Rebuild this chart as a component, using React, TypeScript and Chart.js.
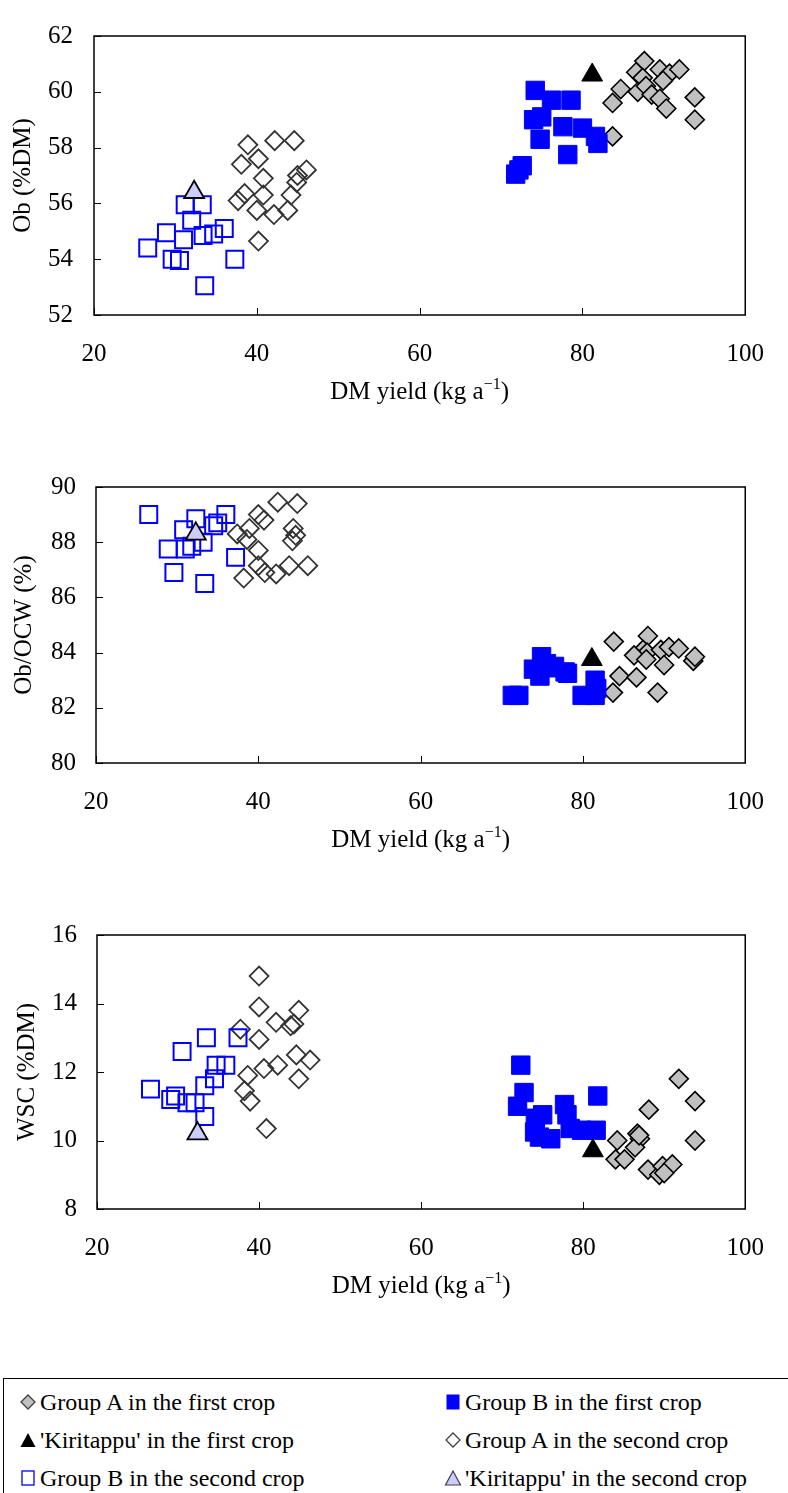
import React, { useEffect, useRef } from 'react';
import { Chart, registerables } from 'chart.js';

Chart.register(...registerables);

type Pt = [number, number];

// ---------- shared axis ----------
const xMin = 20;
const xMax = 100;
const xStep = 20;
const xTitleMain = 'DM yield (kg a';
const xTitleSup = '\u22121';
const xTitleEnd = ')';

// ---------- series labels (legend order) ----------
const seriesLabels = [
  'Group A in the first crop',
  'Group B in the first crop',
  "'Kiritappu' in the first crop",
  'Group A in the second crop',
  'Group B in the second crop',
  "'Kiritappu' in the second crop",
];

// ---------- Panel 1: Ob (%DM) ----------
const obGroupA1: Pt[] = [[87.6,61.1],[86.6,60.7],[89.5,60.8],[90.7,60.65],[91.9,60.8],[87.4,60.5],[89.9,60.4],[84.7,60.1],[86.8,60.0],[87.8,60.2],[88.5,59.9],[89.5,59.75],[83.7,59.6],[90.3,59.4],[93.8,59.8],[93.8,59.0],[83.7,58.4]];
const obGroupB1: Pt[] = [[74.2,60.05],[76.2,59.7],[78.6,59.7],[75.0,59.1],[74.0,59.0],[77.6,58.75],[80.0,58.7],[81.6,58.4],[81.9,58.15],[74.8,58.3],[78.2,57.75],[72.6,57.35],[72.2,57.2],[71.8,57.05]];
const obKiri1: Pt[] = [[81.2,60.6]];
const obGroupA2: Pt[] = [[38.9,58.1],[42.2,58.25],[44.6,58.25],[40.2,57.6],[38.1,57.4],[40.8,56.9],[46.1,57.2],[45.0,57.0],[44.9,56.75],[38.5,56.35],[40.8,56.3],[37.7,56.1],[44.2,56.3],[40.0,55.75],[42.1,55.6],[43.8,55.75],[40.2,54.65]];
const obGroupB2: Pt[] = [[26.6,54.4],[28.9,54.95],[29.6,54.0],[30.5,53.95],[31.0,54.7],[31.2,55.95],[32.0,55.4],[33.3,55.95],[33.4,54.85],[33.6,53.05],[34.7,54.9],[36.0,55.1],[37.3,54.0]];
const obKiri2: Pt[] = [[32.3,56.4]];

// ---------- Panel 2: Ob/OCW (%) ----------
const ocwGroupA1: Pt[] = [[83.8,84.4],[88.0,84.6],[87.4,84.1],[87.9,84.0],[89.6,84.1],[90.6,84.2],[91.8,84.15],[86.3,83.9],[87.8,83.75],[90.0,83.55],[93.6,83.7],[93.8,83.85],[84.5,83.15],[86.6,83.1],[83.7,82.55],[89.2,82.55]];
const ocwGroupB1: Pt[] = [[74.9,83.85],[73.9,83.4],[76.1,83.45],[78.1,83.25],[74.7,83.15],[81.5,83.0],[72.1,82.45],[71.3,82.45],[79.9,82.45],[81.5,82.45],[75.5,83.6],[77.8,83.3],[76.5,83.5],[81.7,82.7]];
const ocwKiri1: Pt[] = [[81.1,83.75]];
const ocwGroupA2: Pt[] = [[38.2,86.7],[40.0,87.7],[40.0,87.15],[40.8,86.9],[42.2,86.85],[43.8,87.15],[46.1,87.15],[38.6,88.1],[37.4,88.3],[44.6,88.25],[44.2,88.05],[42.4,89.45],[44.8,89.4],[40.0,89.0],[40.7,88.8],[38.9,88.5],[44.3,88.5]];
const ocwGroupB2: Pt[] = [[26.5,89.0],[28.9,87.75],[29.6,86.9],[30.8,88.45],[31.0,87.75],[31.8,87.85],[32.3,88.85],[33.2,88.0],[33.4,86.5],[34.5,88.6],[35.0,88.7],[36.0,89.0],[37.2,87.45]];
const ocwKiri2: Pt[] = [[32.3,88.3]];

// ---------- Panel 3: WSC (%DM) ----------
const wscGroupA1: Pt[] = [[91.8,11.8],[93.8,11.15],[88.1,10.9],[93.8,10.0],[86.7,10.2],[87.0,10.05],[86.4,9.8],[84.2,10.0],[84.0,9.45],[85.1,9.45],[88.0,9.15],[89.4,9.0],[89.8,9.25],[91.0,9.3],[90.0,9.05],[86.9,10.15]];
const wscGroupB1: Pt[] = [[72.3,12.2],[72.7,11.4],[71.9,11.0],[81.8,11.3],[77.7,11.05],[75.0,10.75],[78.0,10.75],[74.1,10.65],[74.0,10.25],[76.0,10.05],[78.4,10.35],[79.8,10.3],[81.6,10.3],[74.6,10.1]];
const wscKiri1: Pt[] = [[81.2,9.7]];
const wscGroupA2: Pt[] = [[40.0,14.8],[40.0,13.9],[44.9,13.8],[42.1,13.45],[43.9,13.35],[44.3,13.4],[37.7,13.25],[40.0,12.95],[44.6,12.5],[46.3,12.35],[42.3,12.2],[40.6,12.1],[38.6,11.9],[44.9,11.8],[38.2,11.45],[38.9,11.15],[40.9,10.35]];
const wscGroupB2: Pt[] = [[33.5,13.0],[37.4,13.0],[30.5,12.6],[34.7,12.2],[35.9,12.2],[34.5,11.8],[33.3,11.6],[26.6,11.5],[29.1,11.2],[29.7,11.3],[31.1,11.1],[32.1,11.1],[33.3,10.7]];
const wscKiri2: Pt[] = [[32.4,10.2]];

// ---------- panel definitions ----------
const panelDefs = [
  { yTitle: 'Ob (%DM)', yMin: 52, yMax: 62, yStep: 2, series: [obGroupA1, obGroupB1, obKiri1, obGroupA2, obGroupB2, obKiri2] },
  { yTitle: 'Ob/OCW (%)', yMin: 80, yMax: 90, yStep: 2, series: [ocwGroupA1, ocwGroupB1, ocwKiri1, ocwGroupA2, ocwGroupB2, ocwKiri2] },
  { yTitle: 'WSC (%DM)', yMin: 8, yMax: 16, yStep: 2, series: [wscGroupA1, wscGroupB1, wscKiri1, wscGroupA2, wscGroupB2, wscKiri2] },
];

// ---------- layout (pixels) ----------
const FONT = '"Liberation Serif", "Times New Roman", serif';
const AXIS_FONT_SIZE = 25;
const W = 788;
const layouts = [
  { top: 0, height: 420, padTop: 24, yAxisW: 94, xAxisH: 105, tickPad: 21, titlePad: 8 },
  { top: 452, height: 416, padTop: 24, yAxisW: 96, xAxisH: 105, tickPad: 20, titlePad: 9 },
  { top: 900, height: 414, padTop: 24, yAxisW: 97, xAxisH: 105, tickPad: 20, titlePad: 12 },
];

// ---------- marker styles ----------
const seriesStyles = [
  { pointStyle: 'rectRot', pointRadius: 9.5, backgroundColor: '#c0c0c0', borderColor: '#000000', borderWidth: 1.6 },
  { pointStyle: 'rect', pointRadius: 13, backgroundColor: '#0000ff', borderColor: '#0000ff', borderWidth: 1 },
  { pointStyle: 'triangle', pointRadius: 12, backgroundColor: '#000000', borderColor: '#000000', borderWidth: 1 },
  { pointStyle: 'rectRot', pointRadius: 9.5, backgroundColor: 'rgba(0,0,0,0)', borderColor: '#333333', borderWidth: 1.8 },
  { pointStyle: 'rect', pointRadius: 12, backgroundColor: 'rgba(0,0,0,0)', borderColor: '#0000ff', borderWidth: 2 },
  { pointStyle: 'triangle', pointRadius: 11.5, backgroundColor: '#ccccff', borderColor: '#000000', borderWidth: 1.8 },
];

const framePlugin = {
  id: 'frame',
  beforeDatasetsDraw(chart: any) {
    const { ctx, chartArea: a, scales } = chart;
    ctx.save();
    ctx.strokeStyle = '#000';
    ctx.lineWidth = 1.5;
    ctx.strokeRect(a.left, a.top, a.right - a.left, a.bottom - a.top);
    ctx.lineWidth = 1;
    ctx.beginPath();
    scales.x.ticks.forEach((t: any) => {
      const px = Math.round(scales.x.getPixelForValue(t.value)) + 0.5;
      ctx.moveTo(px, a.bottom);
      ctx.lineTo(px, a.bottom - 7);
    });
    scales.y.ticks.forEach((t: any) => {
      const py = Math.round(scales.y.getPixelForValue(t.value)) + 0.5;
      ctx.moveTo(a.left, py);
      ctx.lineTo(a.left + 7, py);
    });
    ctx.stroke();
    ctx.restore();
  },
  afterDraw(chart: any) {
    const { ctx, chartArea: a } = chart;
    ctx.save();
    ctx.fillStyle = '#000';
    ctx.textBaseline = 'alphabetic';
    const big = `${AXIS_FONT_SIZE}px ${FONT}`;
    const small = `16px ${FONT}`;
    ctx.font = big;
    const w1 = ctx.measureText(xTitleMain).width;
    const w3 = ctx.measureText(xTitleEnd).width;
    ctx.font = small;
    const w2 = ctx.measureText(xTitleSup).width;
    const cx = (a.left + a.right) / 2;
    let x = cx - (w1 + w2 + w3) / 2;
    const base = a.bottom + 84;
    ctx.textAlign = 'left';
    ctx.font = big;
    ctx.fillText(xTitleMain, x, base);
    x += w1;
    ctx.font = small;
    ctx.fillText(xTitleSup, x, base - 10);
    x += w2;
    ctx.font = big;
    ctx.fillText(xTitleEnd, x, base);
    ctx.restore();
  },
};

function Panel({ idx }: { idx: number }) {
  const ref = useRef<HTMLCanvasElement>(null);
  const def = panelDefs[idx];
  const lay = layouts[idx];
  useEffect(() => {
    if (!ref.current) return;
    const font = { family: FONT, size: AXIS_FONT_SIZE };
    const datasets = def.series.map((pts, i) => ({
      label: seriesLabels[i],
      data: pts.map(([x, y]) => ({ x, y })),
      showLine: false,
      order: 10 - i,
      ...seriesStyles[i],
    }));
    const chart = new Chart(ref.current, {
      type: 'scatter',
      data: { datasets: datasets as any },
      options: {
        animation: false,
        responsive: false,
        maintainAspectRatio: false,
        layout: { padding: { top: lay.padTop, right: 23, left: 0, bottom: 0 } },
        plugins: { legend: { display: false }, tooltip: { enabled: false } },
        scales: {
          x: {
            type: 'linear', min: xMin, max: xMax,
            ticks: { stepSize: xStep, font, color: '#000', padding: 24, maxRotation: 0 },
            grid: { display: false, drawTicks: false },
            border: { display: false },
            afterFit: (s: any) => { s.height = lay.xAxisH; },
          },
          y: {
            type: 'linear', min: def.yMin, max: def.yMax,
            ticks: { stepSize: def.yStep, font, color: '#000', padding: lay.tickPad },
            grid: { display: false, drawTicks: false },
            border: { display: false },
            title: { display: true, text: def.yTitle, font, color: '#000', padding: { top: lay.titlePad, bottom: 0 } },
            afterFit: (s: any) => { s.width = lay.yAxisW; },
          },
        },
      } as any,
      plugins: [framePlugin],
    });
    return () => chart.destroy();
  }, []);
  return (
    <canvas
      ref={ref}
      width={W}
      height={lay.height}
      style={{ position: 'absolute', left: 0, top: lay.top, width: W, height: lay.height }}
    />
  );
}

function LegendMarker({ kind }: { kind: number }) {
  const s = 18;
  let shape: React.ReactNode = null;
  if (kind === 0) shape = <polygon points="9,2 16,9 9,16 2,9" fill="#c0c0c0" stroke="#404040" strokeWidth={1.3} />;
  if (kind === 1) shape = <rect x={2.5} y={1.5} width={13} height={15} fill="#0000ff" />;
  if (kind === 2) shape = <polygon points="9,2 16.5,16 1.5,16" fill="#000" />;
  if (kind === 3) shape = <polygon points="9,2 16,9 9,16 2,9" fill="#fff" stroke="#404040" strokeWidth={1.3} />;
  if (kind === 4) shape = <rect x={3} y={2} width={12} height={14} fill="#fff" stroke="#0000ff" strokeWidth={1.3} />;
  if (kind === 5) shape = <polygon points="9,2 16.5,16 1.5,16" fill="#ccccff" stroke="#404040" strokeWidth={1.2} />;
  return (
    <svg width={s} height={s} style={{ display: 'block' }}>
      {shape}
    </svg>
  );
}

const legendRows = [1402, 1440, 1478];
const legendCols = [{ marker: 19, text: 40 }, { marker: 444, text: 465 }];

export default function App() {
  return (
    <div style={{ position: 'absolute', left: 0, top: 0, width: W, height: 1493, overflow: 'hidden', background: '#fff' }}>
      <Panel idx={0} />
      <Panel idx={1} />
      <Panel idx={2} />
      <div style={{ position: 'absolute', left: 3, top: 1378, width: 900, height: 300, border: '1px solid #000', boxSizing: 'border-box' }} />
      {seriesLabels.map((label, i) => {
        const row = Math.floor(i / 2);
        const col = legendCols[i % 2];
        const cy = legendRows[row];
        return (
          <React.Fragment key={i}>
            <div style={{ position: 'absolute', left: col.marker, top: cy - 9 }}>
              <LegendMarker kind={i} />
            </div>
            <div style={{ position: 'absolute', left: col.text, top: cy - 14, height: 28, lineHeight: '28px', fontFamily: FONT, fontSize: 24, color: '#000', whiteSpace: 'nowrap' }}>
              {label}
            </div>
          </React.Fragment>
        );
      })}
    </div>
  );
}
